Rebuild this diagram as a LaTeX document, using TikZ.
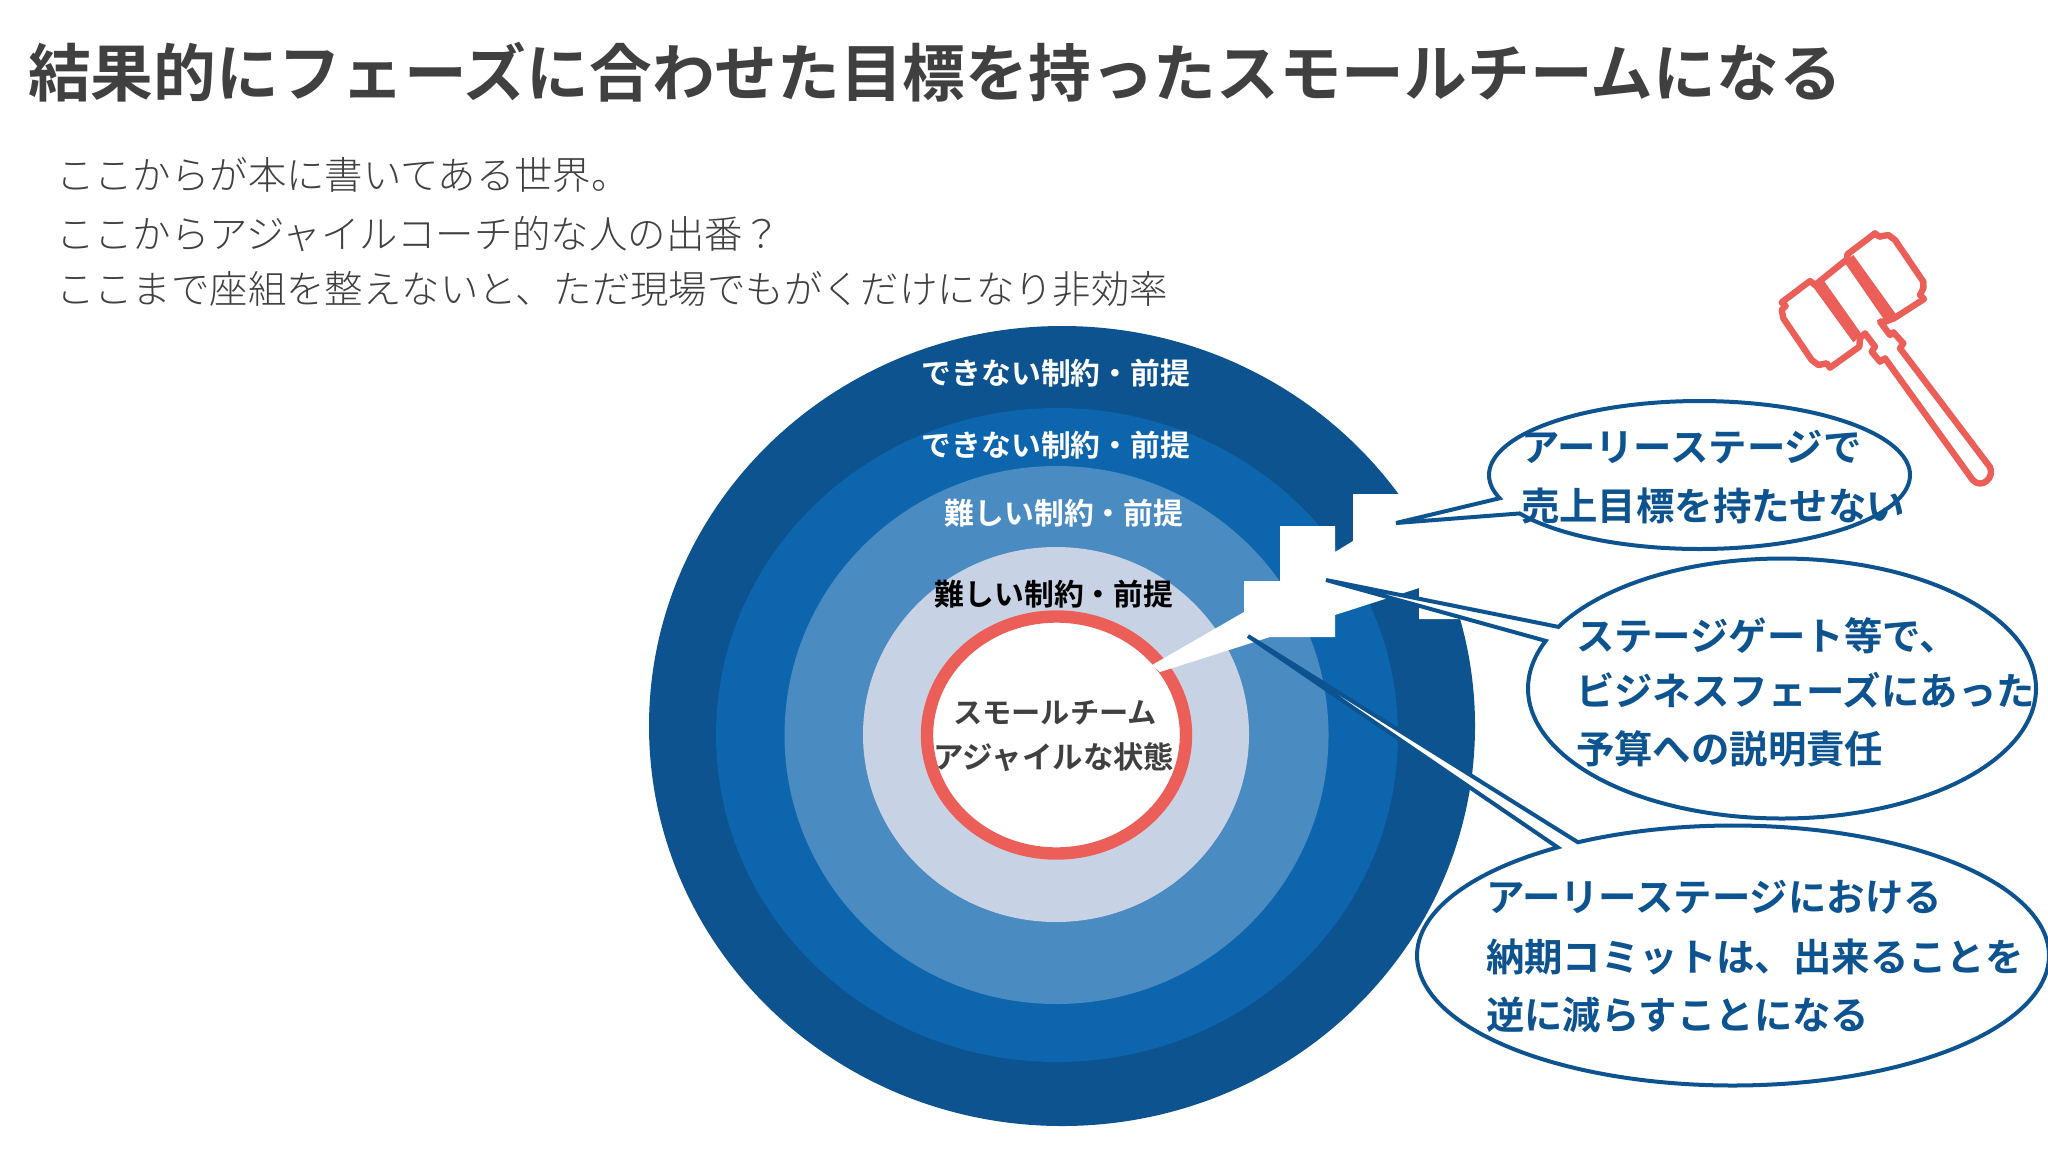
\documentclass[tikz,border=0pt]{standalone}
\usepackage{fontspec}
\setmainfont{Noto Sans CJK JP}
\newfontfamily\jplight{Noto Sans CJK JP Light}
\newfontfamily\jpmed{Noto Sans CJK JP Medium}
\newfontfamily\jpbold{Noto Sans CJK JP Bold}
\definecolor{ringA}{HTML}{0C538F}
\definecolor{ringB}{HTML}{0D65AD}
\definecolor{ringC}{HTML}{4A8BC2}
\definecolor{ringD}{HTML}{C8D2E5}
\definecolor{coral}{HTML}{EC5F59}
\definecolor{inkdark}{HTML}{404040}
\definecolor{inkbody}{HTML}{404040}
\newcommand{\fsz}[1]{\fontsize{#1}{#1}\selectfont}
\tikzset{
  txt/.style={anchor=base west,inner sep=0pt,outer sep=0pt},
  ctr/.style={anchor=base,inner sep=0pt,outer sep=0pt},
  titletxt/.style={txt,text=inkdark,font=\jpbold\fsz{31.36}},
  bodytxt/.style={txt,text=inkbody,font=\jplight\fsz{19.2}},
  ringtxt/.style={ctr,text=white,font=\jpbold\fsz{14.9}},
  coretxt/.style={ctr,text=inkdark,font=\jpbold\fsz{14.6}},
  calltxt/.style={txt,text=ringA,font=\jpbold\fsz{19.2}},
  callout/.style={draw=ringA,fill=white,line width=2pt,line join=miter,miter limit=10},
  gavel/.style={draw=coral,line width=3.2pt,line join=round},
}
\begin{document}
\begin{tikzpicture}[x=0.5pt,y=-0.5pt]
\useasboundingbox (0,0) rectangle (2048,1152);
% rings
\fill[ringA] (1062,726) ellipse [x radius=413,y radius=400];
\fill[ringB] (1057,735) ellipse [x radius=341,y radius=327];
\fill[ringC] (1056.5,735) ellipse [x radius=272,y radius=269];
\fill[ringD] (1056,734.5) ellipse [x radius=193,y radius=187.5];
\draw[coral,fill=white,line width=6.2pt] (1056.5,735) ellipse [x radius=129.5,y radius=118.5];
% white cut-out
\fill[white] (1398,494)--(1353,494)--(1353,541)--(1335,552)--(1335,526)--(1280,526)--(1280,581)--(1244,581)--(1244,612)--(1152,665)--(1160,672)--(1270,637)--(1335,637)--(1335,615)--(1419,588)--(1419,619)--(1458,619)--(1490,619)--(1490,494)--cycle;
% callouts
\coordinate (tipA) at (1396,523);
\coordinate (tipB) at (1326,580);
\coordinate (tipC) at (1248,636);
\draw[callout] (tipA) -- plot[domain=161.7:508.7,samples=150,smooth] ({1699.5+210.5*cos(\x)},{475+74*sin(\x)}) -- cycle;
\draw[callout] (tipB) -- plot[domain=208.3:561.5,samples=150,smooth] ({1782+254*cos(\x)},{688.5+130*sin(\x)}) -- cycle;
\draw[callout] (tipC) -- plot[domain=240.6:596.3,samples=150,smooth] ({1733+316*cos(\x)},{955.5+130*sin(\x)}) -- cycle;
% gavel
\begin{scope}[shift={(1770,225)},x=0.16667pt,y=-0.16667pt]
\draw[gavel,fill=white] (232,88)--(315,25)--(328,35)--(355,30)--(375,45)--(460,170)--(460,190)--(450,210)--(462,222)--(372,280)--(345,290)--(330,290)--(360,330)--(370,322)--(400,355)--(390,370)--(659,725) .. controls (676,755) and (636,795) .. (608,765)--(345,400)--(330,410)--(305,380)--(315,365)--(285,325)--(270,340)--(268,365)--(180,428)--(170,415)--(145,420)--(125,405)--(40,280)--(35,255)--(47,243)--(35,232)--(120,168)--(135,180)--(232,102)--cycle;
\fill[coral] (125,180)--(160,165)--(275,328)--(250,352)--cycle;
\fill[coral] (222,110)--(250,90)--(378,268)--(345,288)--cycle;
\end{scope}
% title and body
\node[titletxt] (title) at (28,96) {結果的にフェーズに合わせた目標を持ったスモールチームになる};
\node[bodytxt] (bodyA) at (56,189) {ここからが本に書いてある世界。};
\node[bodytxt] (bodyB) at (56,248) {ここからアジャイルコーチ的な人の出番？};
\node[bodytxt] (bodyC) at (56,303) {ここまで座組を整えないと、ただ現場でもがくだけになり非効率};
% ring labels
\node[ringtxt] (ringlabA) at (1056,384) {できない制約・前提};
\node[ringtxt] (ringlabB) at (1056,456) {できない制約・前提};
\node[ringtxt] (ringlabC) at (1064,524) {難しい制約・前提};
\node[ringtxt,text=black] (ringlabD) at (1054,605) {難しい制約・前提};
\node[coretxt] (coreA) at (1055,723) {スモールチーム};
\node[coretxt,font=\jpbold\fsz{15.2}] (coreB) at (1054,768) {アジャイルな状態};
% callout text
\node[calltxt] (cA1) at (1521,461.5) {アーリーステージで};
\node[calltxt] (cA2) at (1521,520.5) {売上目標を持たせない};
\node[calltxt] (cB1) at (1576,650.5) {ステージゲート等で、};
\node[calltxt] (cB2) at (1576,705.5) {ビジネスフェーズにあった};
\node[calltxt] (cB3) at (1576,763.5) {予算への説明責任};
\node[calltxt] (cC1) at (1486,911.5) {アーリーステージにおける};
\node[calltxt] (cC2) at (1486,971.5) {納期コミットは、出来ることを};
\node[calltxt] (cC3) at (1486,1029.5) {逆に減らすことになる};
\end{tikzpicture}
\end{document}
